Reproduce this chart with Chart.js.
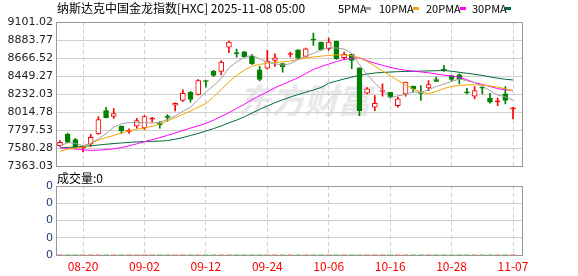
<!DOCTYPE html>
<html>
<head>
<meta charset="utf-8">
<title>HXC</title>
<script src="https://cdn.jsdelivr.net/npm/chart.js@4.4.1/dist/chart.umd.min.js"></script>
<style>
  html, body { margin: 0; padding: 0; background: #fff; }
  #wrap { position: relative; width: 578px; height: 276px; overflow: hidden; font-family: 'Noto Sans CJK SC', sans-serif; }
  #mark { position: absolute; left: 238px; top: 74px; font-size: 34px; font-weight: bold; font-style: italic; color: #e8e8ec; letter-spacing: -1px; white-space: nowrap; }
  canvas { position: absolute; left: 0; }
  #kline { top: 0; }
  #vol { top: 176px; }
  .txt { position: absolute; font-size: 12px; line-height: 16px; color: #000; white-space: nowrap; }
  .leg { position: absolute; top: 0; font-size: 11px; line-height: 16px; color: #000; white-space: nowrap; }
  .key { position: absolute; top: 7px; width: 6px; height: 3px; }
</style>
</head>
<body>
<div id="wrap">
  <div id="mark">东方财富</div>
  <canvas id="vol" width="578" height="100"></canvas>
  <canvas id="kline" width="578" height="176"></canvas>
  <div class="txt" style="left:57px;top:0px">纳斯达克中国金龙指数[HXC] 2025-11-08 05:00</div>
  <div class="txt" style="left:57px;top:170px">成交量:0</div>
  <div id="legend"></div>
</div>
<script>
const dates = ['08-15','08-18','08-19','08-20','08-21','08-22','08-25','08-26','08-27','08-28','08-29',
  '09-02','09-03','09-04','09-05','09-08','09-09','09-10','09-11','09-12','09-15','09-16','09-17','09-18','09-19',
  '09-22','09-23','09-24','09-25','09-26','09-29','09-30',
  '10-01','10-02','10-03','10-06','10-07','10-08','10-09','10-10','10-13','10-14','10-15','10-16','10-17',
  '10-20','10-21','10-22','10-23','10-24','10-27','10-28','10-29','10-30','10-31',
  '11-03','11-04','11-05','11-06','11-07'];
const shownDates = ['08-20','09-02','09-12','09-24','10-06','10-16','10-28','11-07'];

const openP = [7612,7749,7685,7585,7633,7753,8035,7965,7846,7785,
  7846,7826,7930,7886,7970,8099,8156,8256,8228,8389,
  8506,8506,8798,8728,8743,8687,8526,8546,8638,8602,
  8710,8767,8687,8888,8860,8779,8872,8671,8711,8550,
  8244,8075,8264,8256,8095,8236,8329,8252,8308,8409,
  8530,8457,8465,8256,8208,8308,8184,8140,8236,8055];
const highP = [7673,7765,7701,7616,7749,7962,8075,8060,7850,7815,
  7942,7974,7954,7902,7986,8127,8284,8264,8409,8397,
  8518,8638,8872,8775,8747,8711,8566,8759,8719,8602,
  8739,8767,8787,8968,8860,8908,8872,8739,8711,8550,
  8312,8216,8357,8256,8196,8377,8329,8337,8397,8437,
  8578,8457,8477,8304,8325,8325,8244,8184,8325,8075];
const lowP = [7604,7645,7580,7536,7604,7749,7946,7942,7760,7760,
  7822,7806,7894,7822,7910,8031,8144,8136,8224,8317,
  8445,8465,8731,8678,8675,8590,8393,8534,8566,8498,
  8679,8658,8679,8819,8759,8759,8650,8650,8538,7975,
  8236,8035,8208,8184,8075,8208,8256,8156,8276,8385,
  8505,8385,8357,8236,8176,8236,8124,8095,8115,7934];
const closeP = [7653,7653,7592,7592,7713,7926,7950,8000,7790,7795,
  7914,7962,7942,7866,7954,8123,8244,8168,8397,8385,
  8457,8618,8860,8720,8685,8598,8409,8630,8670,8562,
  8715,8667,8779,8882,8767,8860,8658,8711,8638,8035,
  8296,8123,8276,8196,8176,8377,8296,8240,8349,8385,
  8522,8409,8417,8248,8276,8304,8136,8148,8156,8063];

const ma5 = [7605,7650,7640,7612,7641,7695,7755,7836,7876,7890,
  7892,7890,7885,7896,7928,7970,8026,8075,8170,8260,
  8335,8420,8550,8620,8675,8700,8660,8615,8600,8580,
  8600,8650,8685,8725,8765,8790,8788,8775,8725,8585,
  8470,8365,8280,8190,8212,8230,8260,8255,8285,8325,
  8355,8385,8415,8395,8370,8330,8275,8222,8200,8160];
const ma10 = [7545,7570,7585,7595,7640,7680,7710,7735,7765,7790,
  7810,7825,7845,7875,7910,7950,7990,8030,8075,8120,
  8200,8290,8380,8460,8520,8570,8590,8605,8615,8620,
  8630,8650,8665,8680,8690,8698,8705,8705,8695,8671,
  8625,8570,8510,8455,8397,8345,8295,8255,8240,8265,
  8300,8325,8337,8345,8345,8342,8332,8318,8298,8270];
const ma20 = [7588,7580,7572,7562,7556,7558,7565,7575,7590,7610,
  7635,7660,7685,7710,7737,7765,7795,7825,7852,7880,
  7920,7965,8010,8060,8110,8165,8215,8260,8310,8350,
  8390,8430,8480,8530,8565,8595,8625,8650,8665,8670,
  8635,8605,8580,8555,8535,8520,8510,8500,8490,8475,
  8462,8450,8437,8405,8372,8350,8325,8300,8285,8276];
const ma30 = [7588,7592,7596,7604,7612,7620,7630,7638,7645,7652,
  7658,7662,7665,7668,7674,7690,7710,7735,7760,7788,
  7818,7850,7888,7920,7960,8005,8050,8090,8130,8165,
  8198,8228,8255,8282,8312,8365,8390,8415,8437,8458,
  8475,8487,8494,8499,8503,8506,8508,8510,8512,8515,
  8518,8508,8496,8484,8472,8458,8440,8425,8412,8403];
const volume = [0,0,0,0,0,0,0,0,0,0, 0,0,0,0,0,0,0,0,0,0, 0,0,0,0,0,0,0,0,0,0,
  0,0,0,0,0,0,0,0,0,0, 0,0,0,0,0,0,0,0,0,0, 0,0,0,0,0,0,0,0,0,0];

const priceTicks = [7363.03, 7580.28, 7797.53, 8014.78, 8232.03, 8449.27, 8666.52, 8883.77, 9101.02];
const volTickLabels = ['0', '0', '0', '0', '0'];
const maNames = ['5PMA', '10PMA', '20PMA', '30PMA'];
const maSeries = [ma5, ma10, ma20, ma30];

// styles
const RED = '#ff0000', GREEN = '#008000';
const maColors = ['#a0a0a0', '#f4a300', '#ff00ff', '#006b36'];
const legendTextX = [338, 379, 426, 472];
const legendKeyX = [365, 413, 460, 505];
const X_MIN = -0.52, X_MAX = 60.17;

// legend
const legend = document.getElementById('legend');
maNames.forEach((n, k) => {
  const t = document.createElement('div');
  t.className = 'leg';
  t.style.left = legendTextX[k] + 'px';
  t.textContent = n;
  legend.appendChild(t);
  const m = document.createElement('div');
  m.className = 'key';
  m.style.left = legendKeyX[k] + 'px';
  m.style.background = maColors[k];
  legend.appendChild(m);
});

const up = i => closeP[i] >= openP[i];
const tickIdx = shownDates.map(d => dates.indexOf(d));
const pts = arr => arr.map((v, i) => ({ x: i, y: v }));

const frame = {
  id: 'frame',
  afterDraw(chart) {
    const { ctx, chartArea: a } = chart;
    ctx.save();
    ctx.strokeStyle = '#999';
    ctx.lineWidth = 1;
    ctx.strokeRect(Math.round(a.left) + 0.5, Math.round(a.top) + 0.5,
      Math.round(a.right - a.left), Math.round(a.bottom - a.top));
    ctx.restore();
  }
};

function xAxis(showLabels, h) {
  return {
    type: 'linear', min: X_MIN, max: X_MAX, offset: false,
    afterBuildTicks: s => { s.ticks = tickIdx.map(v => ({ value: v })); },
    ticks: {
      display: showLabels, autoSkip: false, maxRotation: 0, padding: 4, color: RED,
      font: { family: "'Noto Sans CJK SC', sans-serif", size: 12 },
      callback: v => dates[v]
    },
    grid: { color: '#d0d0d0', drawTicks: false, offset: false },
    border: { display: false, dash: [4, 3] },
    afterFit: s => { s.height = h; }
  };
}

const tickFont = { family: "'DejaVu Sans', sans-serif", size: 11 };

new Chart(document.getElementById('kline').getContext('2d'), {
  type: 'bar',
  data: {
    datasets: [
      ...maNames.map((n, k) => ({
        type: 'line', label: n, data: pts(maSeries[k]),
        borderColor: maColors[k], borderWidth: 1, pointRadius: 0, tension: 0, order: 0
      })),
      {
        type: 'bar', label: 'wick',
        data: dates.map((d, i) => ({ x: i, y: [lowP[i], highP[i]] })),
        barThickness: 1, grouped: false, borderWidth: 0, order: 3,
        backgroundColor: c => up(c.dataIndex) ? RED : GREEN
      },
      {
        type: 'bar', label: 'body',
        data: dates.map((d, i) => ({ x: i, y: [openP[i], closeP[i]] })),
        barThickness: 5, minBarLength: 1, grouped: false, borderWidth: 1, borderSkipped: false, order: 2,
        borderColor: c => up(c.dataIndex) ? RED : GREEN,
        backgroundColor: c => {
          const i = c.dataIndex;
          if (!up(i)) return GREEN;
          return Math.abs(closeP[i] - openP[i]) < 20 ? RED : '#ffffff';
        }
      }
    ]
  },
  options: {
    responsive: false,
    animation: false,
    events: [],
    layout: { padding: { left: 0, top: 22, right: 56, bottom: 0 } },
    plugins: { legend: { display: false }, tooltip: { enabled: false } },
    scales: {
      x: xAxis(false, 0),
      y: {
        min: priceTicks[0], max: priceTicks[priceTicks.length - 1],
        afterBuildTicks: s => { s.ticks = priceTicks.map(v => ({ value: v })); },
        ticks: { color: '#222', font: tickFont, padding: 3, autoSkip: false, callback: v => v.toFixed(2) },
        grid: { color: '#d0d0d0', drawTicks: false },
        border: { display: false },
        afterFit: s => { s.width = 56; }
      }
    }
  },
  plugins: [frame]
});

new Chart(document.getElementById('vol').getContext('2d'), {
  type: 'bar',
  data: {
    datasets: [{
      label: '成交量', data: pts(volume), barThickness: 5, grouped: false,
      backgroundColor: c => up(c.dataIndex) ? RED : GREEN
    }]
  },
  options: {
    responsive: false,
    animation: false,
    events: [],
    layout: { padding: { left: 0, top: 10, right: 56, bottom: 0 } },
    plugins: { legend: { display: false }, tooltip: { enabled: false } },
    scales: {
      x: xAxis(true, 21),
      y: {
        min: 0, max: volTickLabels.length - 1,
        afterBuildTicks: s => { s.ticks = volTickLabels.map((t, i) => ({ value: i })); },
        ticks: { color: '#1c3d7a', font: tickFont, padding: 3, autoSkip: false, callback: (v, i) => volTickLabels[i] },
        grid: { color: '#d0d0d0', drawTicks: false },
        border: { display: false },
        afterFit: s => { s.width = 56; }
      }
    }
  },
  plugins: [frame]
});
</script>
</body>
</html>
